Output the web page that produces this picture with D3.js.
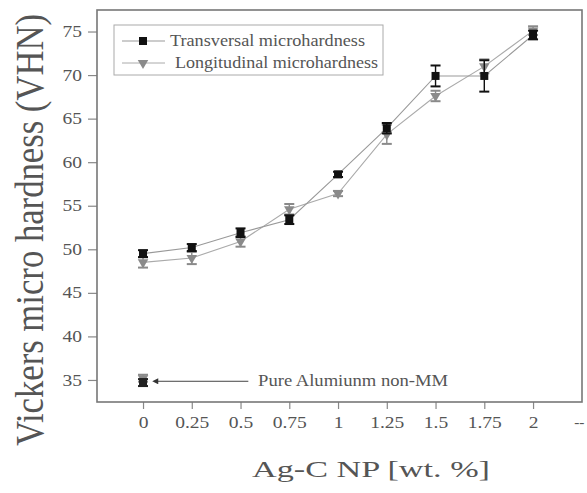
<!DOCTYPE html>
<html>
<head>
<meta charset="utf-8">
<script src="https://cdn.jsdelivr.net/npm/d3@7"></script>
<style>
  body { margin: 0; background: #fff; }
  svg text { font-family: "Liberation Serif", "DejaVu Serif", serif; fill: #555; }
</style>
</head>
<body>
<div id="chart"></div>
<script>
// wt.% Ag-C nanoparticles
var loadings = [0, 0.25, 0.5, 0.75, 1, 1.25, 1.5, 1.75, 2];
var transversal = [49.5, 50.2, 51.9, 53.4, 58.6, 63.9, 69.9, 69.9, 74.6];
var transversalErr = [0.4, 0.4, 0.5, 0.5, 0.3, 0.6, 1.2, 1.8, 0.5];
var longitudinal = [48.5, 49.0, 50.9, 54.6, 56.4, 63.2, 67.6, 71.0, 75.1];
var longitudinalErr = [0.6, 0.7, 0.6, 0.6, 0.3, 1.1, 0.6, 0.8, 0.5];
// pure aluminium reference (non mechanically milled)
var pureTransversal = [34.7];
var pureLongitudinal = [35.2];
var pureErr = [0.4];
var xTicks = [0, 0.25, 0.5, 0.75, 1, 1.25, 1.5, 1.75, 2, 2.25];
var xTickLabels = ["0", "0.25", "0.5", "0.75", "1", "1.25", "1.5", "1.75", "2", "--"];
var yTicks = [35, 40, 45, 50, 55, 60, 65, 70, 75];
var seriesNames = ["Transversal microhardness", " Longitudinal microhardness"];

var W = 587, H = 493;
var box = {left: 97, top: 10, right: 582, bottom: 402};
var stretch = 1.22; // the source picture is wider than tall

var svg = d3.select("#chart").append("svg")
  .attr("width", W)
  .attr("height", H);

var x = d3.scaleLinear().domain([-0.236, 2.251]).range([box.left, box.right]);
var y = d3.scaleLinear().domain([32.47, 77.47]).range([box.bottom, box.top]);

// axes
var xAxis = svg.append("g")
  .attr("transform", "translate(0," + box.bottom + ")")
  .call(d3.axisBottom(x).tickValues(xTicks).tickSize(7).tickPadding(8)
    .tickFormat((d, i) => xTickLabels[i]));
xAxis.select(".domain").remove();
xAxis.selectAll("line").attr("stroke", "#888").attr("stroke-width", 1.2);
xAxis.selectAll(".tick").filter(d => d > 2).select("line").remove();
xAxis.selectAll("text")
  .attr("font-size", 16)
  .attr("transform", "scale(" + stretch + ",1)");
// last label sits on the frame edge; keep it inside the page
xAxis.selectAll(".tick").filter(d => d > 2).select("text")
  .attr("font-size", 14)
  .attr("transform", "translate(-3,0) scale(1.1,1)");

var yAxis = svg.append("g")
  .attr("transform", "translate(" + box.left + ",0)")
  .call(d3.axisLeft(y).tickValues(yTicks).tickSize(9));
yAxis.select(".domain").remove();
yAxis.selectAll("line").attr("stroke", "#888").attr("stroke-width", 1.2);
yAxis.selectAll("text")
  .attr("font-size", 16)
  .attr("x", -15 / stretch)
  .attr("transform", "scale(" + stretch + ",1)");

// frame
svg.append("rect")
  .attr("x", box.left)
  .attr("y", box.top)
  .attr("width", box.right - box.left)
  .attr("height", box.bottom - box.top)
  .attr("fill", "none")
  .attr("stroke", "#777")
  .attr("stroke-width", 1.6);

var tri = d3.symbol().type(d3.symbolTriangle).size(48);

function drawSeries(values, errs, lineColor, markColor, marker) {
  var pts = loadings.map((d, i) => ({x: d, v: values[i], e: errs[i]}));
  svg.append("path")
    .datum(pts)
    .attr("fill", "none")
    .attr("stroke", lineColor)
    .attr("stroke-width", 1.1)
    .attr("d", d3.line().x(d => x(d.x)).y(d => y(d.v)));
  var g = svg.append("g").selectAll("g")
    .data(pts)
    .enter().append("g")
      .attr("transform", d => "translate(" + x(d.x) + ",0)");
  drawMarks(g, markColor, marker);
}

function drawMarks(g, markColor, marker) {
  g.append("line")
    .attr("y1", d => y(d.v - d.e))
    .attr("y2", d => y(d.v + d.e))
    .attr("stroke", markColor)
    .attr("stroke-width", 1.4);
  [-1, 1].forEach(function (s) {
    g.append("line")
      .attr("x1", -5)
      .attr("x2", 5)
      .attr("y1", d => y(d.v + s * d.e))
      .attr("y2", d => y(d.v + s * d.e))
      .attr("stroke", markColor)
      .attr("stroke-width", 2);
  });
  if (marker === "square") {
    g.append("rect")
      .attr("x", -4)
      .attr("y", d => y(d.v) - 4)
      .attr("width", 8)
      .attr("height", 8)
      .attr("fill", markColor);
  } else {
    g.append("path")
      .attr("d", tri)
      .attr("fill", markColor)
      .attr("transform", d => "translate(0," + y(d.v) + ") rotate(180)");
  }
}

drawSeries(longitudinal, longitudinalErr, "#aaa", "#8a8a8a", "triangle");
drawSeries(transversal, transversalErr, "#999", "#111", "square");

// pure aluminium points
var pureG1 = svg.append("g").selectAll("g")
  .data(pureLongitudinal.map((v, i) => ({x: 0, v: v, e: pureErr[i]})))
  .enter().append("g").attr("transform", d => "translate(" + x(d.x) + ",0)");
drawMarks(pureG1, "#8a8a8a", "triangle");
var pureG2 = svg.append("g").selectAll("g")
  .data(pureTransversal.map((v, i) => ({x: 0, v: v, e: pureErr[i]})))
  .enter().append("g").attr("transform", d => "translate(" + x(d.x) + ",0)");
drawMarks(pureG2, "#222", "square");

// annotation arrow
var defs = svg.append("defs");
defs.append("marker")
  .attr("id", "arrow")
  .attr("viewBox", "0 0 10 10")
  .attr("refX", 1)
  .attr("refY", 5)
  .attr("markerWidth", 7)
  .attr("markerHeight", 6)
  .attr("markerUnits", "userSpaceOnUse")
  .attr("orient", "auto-start-reverse")
  .append("path")
    .attr("d", "M0,0L10,5L0,10Z")
    .attr("fill", "#333");

var ay = y(34.85);
svg.append("line")
  .attr("x1", x(0.54))
  .attr("x2", x(0.075))
  .attr("y1", ay)
  .attr("y2", ay)
  .attr("stroke", "#444")
  .attr("stroke-width", 1)
  .attr("marker-end", "url(#arrow)");
svg.append("text")
  .attr("x", x(0.59))
  .attr("y", ay + 5)
  .attr("font-size", 16)
  .attr("textLength", 190)
  .attr("lengthAdjust", "spacingAndGlyphs")
  .text("Pure Alumiunm non-MM");

// legend
var legend = svg.append("g");
legend.append("rect")
  .attr("x", 114)
  .attr("y", 25)
  .attr("width", 269)
  .attr("height", 50)
  .attr("fill", "#fff")
  .attr("stroke", "#aaa")
  .attr("stroke-width", 1);
var legendRows = [
  {name: seriesNames[0], line: "#999", color: "#111", marker: "square", textW: 195, tx: 170},
  {name: seriesNames[1], line: "#aaa", color: "#8a8a8a", marker: "triangle", textW: 203, tx: 175}
];
legendRows.forEach(function (r, i) {
  var ry = 41 + i * 22;
  legend.append("line")
    .attr("x1", 122).attr("x2", 165)
    .attr("y1", ry).attr("y2", ry)
    .attr("stroke", r.line).attr("stroke-width", 1);
  if (r.marker === "square") {
    legend.append("rect")
      .attr("x", 139).attr("y", ry - 4)
      .attr("width", 8).attr("height", 8)
      .attr("fill", r.color);
  } else {
    legend.append("path")
      .attr("d", tri)
      .attr("fill", r.color)
      .attr("transform", "translate(143," + ry + ") rotate(180)");
  }
  legend.append("text")
    .attr("x", r.tx)
    .attr("y", ry + 5)
    .attr("font-size", 17)
    .attr("textLength", r.textW)
    .attr("lengthAdjust", "spacingAndGlyphs")
    .text(r.name.trim());
});

// axis titles
svg.append("text")
  .attr("text-anchor", "middle")
  .attr("font-size", 24)
  .attr("textLength", 238)
  .attr("lengthAdjust", "spacingAndGlyphs")
  .attr("x", 371)
  .attr("y", 477)
  .text("Ag-C NP [wt. %]");

svg.append("text")
  .attr("text-anchor", "middle")
  .attr("font-size", 33)
  .attr("textLength", 432)
  .attr("lengthAdjust", "spacingAndGlyphs")
  .attr("transform", "translate(43,230) rotate(-90) scale(1,1.2)")
  .text("Vickers micro hardness (VHN)");
</script>
</body>
</html>
